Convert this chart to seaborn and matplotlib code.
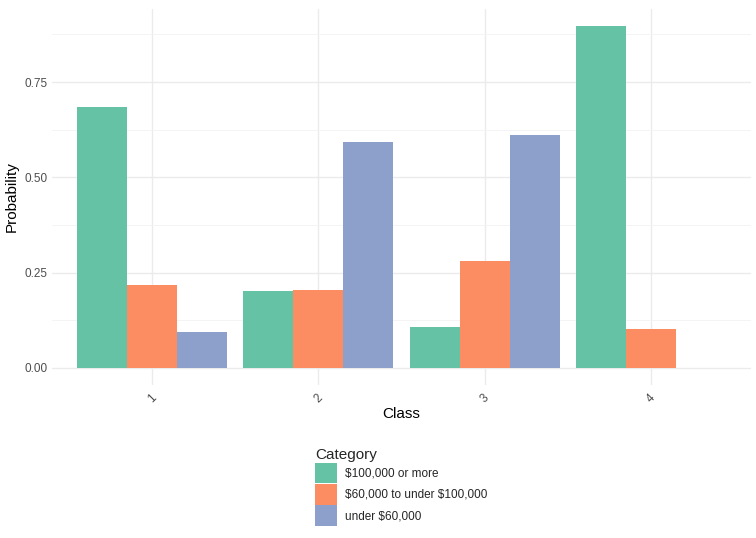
import pandas as pd
import numpy as np
import matplotlib
matplotlib.use('Agg')
import matplotlib.pyplot as plt
import seaborn as sns
from matplotlib.ticker import MultipleLocator

# データ
classes = ['1', '2', '3', '4']
categories = ['$100,000 or more', '$60,000 to under $100,000', 'under $60,000']
prob_high = [0.684, 0.202, 0.108, 0.898]
prob_mid = [0.218, 0.205, 0.281, 0.101]
prob_low = [0.094, 0.593, 0.611, 0.0]
colors = ['#66C2A5', '#FC8D62', '#8DA0CB']

rows = []
for cat, vals in zip(categories, [prob_high, prob_mid, prob_low]):
    for c, v in zip(classes, vals):
        rows.append({'Class': c, 'Category': cat, 'Probability': v})
df = pd.DataFrame(rows)

sns.set_theme(style='white')
plt.rcParams['font.family'] = ['Liberation Sans', 'DejaVu Sans']
plt.rcParams['text.parse_math'] = False  # "$" をそのまま表示

fig = plt.figure(figsize=(7.56, 5.38), dpi=100)
ax = fig.add_axes([52 / 756, 1 - 385 / 538, 699 / 756, (385 - 8.5) / 538])

sns.barplot(data=df, x='Class', y='Probability', hue='Category',
            hue_order=categories, order=classes, palette=colors,
            width=0.9, gap=0, ax=ax, saturation=1, edgecolor='none')

# グリッド (ggplot theme_minimal 風)
ax.set_xlim(-0.6, 3.6)
ax.set_ylim(-0.0449, 0.943)
ax.yaxis.set_major_locator(MultipleLocator(0.25))
ax.yaxis.set_minor_locator(MultipleLocator(0.125))
ax.set_axisbelow(True)
ax.grid(which='major', axis='both', color='#EBEBEB', linewidth=1.0)
ax.grid(which='minor', axis='y', color='#F3F3F3', linewidth=0.6)
for s in ax.spines.values():
    s.set_visible(False)
ax.tick_params(axis='both', which='both', length=0, colors='#4D4D4D', labelsize=8.5)
ax.set_yticks([0, 0.25, 0.5, 0.75])
ax.set_yticklabels(['0.00', '0.25', '0.50', '0.75'])
plt.setp(ax.get_xticklabels(), rotation=45, ha='center')
ax.tick_params(axis='x', pad=5)
ax.set_xlabel('Class', fontsize=11, color='black', labelpad=1)
ax.set_ylabel('Probability', fontsize=11, color='black', labelpad=4)

# 凡例を下に配置
handles, labels = ax.get_legend_handles_labels()
ax.get_legend().remove()
fig.legend(handles, labels, title='Category', loc='upper left',
           bbox_to_anchor=(307 / 756, 1 - 440 / 538), frameon=False,
           fontsize=8.5, title_fontsize=11, handlelength=1.85, handleheight=2.3,
           labelspacing=0.05, handletextpad=0.65, alignment='left', borderpad=0.2)

fig.savefig('out.png', dpi=100)
